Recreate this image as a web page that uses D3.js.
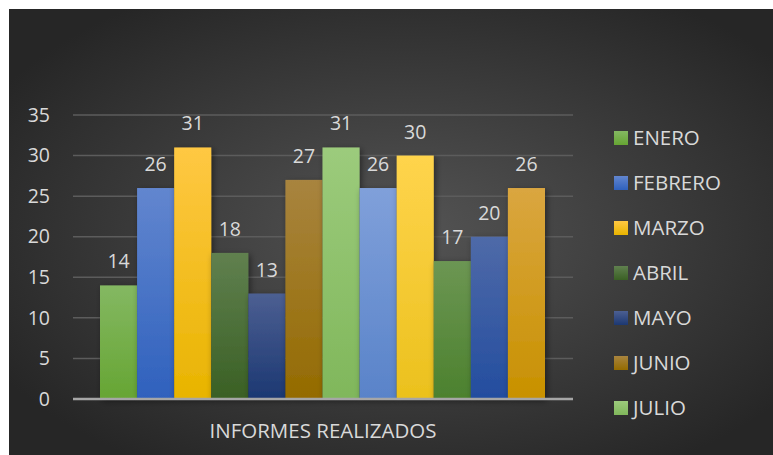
<!DOCTYPE html>
<html>
<head>
<meta charset="utf-8">
<script src="https://cdn.jsdelivr.net/npm/d3@7"></script>
<style>
  html, body { margin: 0; padding: 0; background: #fff; }
  svg text { font-family: "Open Sans", "Liberation Sans", sans-serif; }
</style>
</head>
<body>
<div id="chart"></div>
<script>
// datos
const months = ["ENERO", "FEBRERO", "MARZO", "ABRIL", "MAYO", "JUNIO",
  "JULIO", "AGOSTO", "SEPTIEMBRE", "OCTUBRE", "NOVIEMBRE", "DICIEMBRE"];
const values = [14, 26, 31, 18, 13, 27, 31, 26, 30, 17, 20, 26];
const yTicks = [0, 5, 10, 15, 20, 25, 30, 35];
const category = "INFORMES REALIZADOS";
// color arriba / abajo de cada barra
const topColors = ["#84b862", "#6286cf", "#ffc843", "#60804f", "#4c5f92", "#a8843f",
  "#9ccb7c", "#80a0da", "#ffd44c", "#6c9653", "#4f6aa8", "#daa640"];
const bottomColors = ["#66a533", "#2f61bd", "#e8b400", "#3a6024", "#1c3872", "#946b00",
  "#80b75b", "#5983c9", "#ebc11d", "#4c812e", "#234d9f", "#c89100"];

const W = 773, H = 455;
const margin = {top: 115, right: 200, bottom: 56, left: 73};
const width = 573 - margin.left;
const height = 399 - margin.top;

const svg = d3.select("#chart").append("svg")
  .attr("width", W)
  .attr("height", H);

const defs = svg.append("defs");

// fondo
const bg = defs.append("radialGradient")
  .attr("id", "bg")
  .attr("cx", "52%").attr("cy", "50%").attr("r", "62%");
bg.append("stop").attr("offset", "0%").attr("stop-color", "#545454");
bg.append("stop").attr("offset", "100%").attr("stop-color", "#262626");

svg.append("rect")
  .attr("x", 9).attr("y", 9)
  .attr("width", W - 9).attr("height", H - 9)
  .attr("fill", "url(#bg)");

months.forEach((m, i) => {
  const g = defs.append("linearGradient")
    .attr("id", "grad" + i)
    .attr("x1", 0).attr("y1", 0).attr("x2", 0).attr("y2", 1);
  g.append("stop").attr("offset", "0%").attr("stop-color", topColors[i]);
  g.append("stop").attr("offset", "100%").attr("stop-color", bottomColors[i]);
});

const shadow = defs.append("filter").attr("id", "shadow")
  .attr("x", "-30%").attr("y", "-20%").attr("width", "160%").attr("height", "140%");
shadow.append("feDropShadow")
  .attr("dx", 2).attr("dy", 2).attr("stdDeviation", 3)
  .attr("flood-color", "#000").attr("flood-opacity", 0.45);

const g = svg.append("g")
  .attr("transform", `translate(${margin.left},${margin.top})`);

const y = d3.scaleLinear().domain([0, 35]).range([height, 0]);

// barras: ocupan 27..472 dentro del área
const x = d3.scaleBand()
  .domain(months)
  .range([27, width - 28])
  .padding(0);

// rejilla
g.append("g")
  .selectAll("line")
  .data(yTicks.filter(d => d > 0))
  .join("line")
  .attr("x1", 0).attr("x2", width)
  .attr("y1", d => y(d)).attr("y2", d => y(d))
  .attr("stroke", "#5c5c5c")
  .attr("stroke-width", 1.5);

// eje Y
const yAxis = g.append("g")
  .call(d3.axisLeft(y).tickValues(yTicks).tickSize(0).tickPadding(23));
yAxis.select(".domain").remove();
yAxis.selectAll("text")
  .attr("fill", "#d9d9d9")
  .style("font-size", "19.5px");

// barras
g.append("g")
  .selectAll("rect")
  .data(values)
  .join("rect")
  .attr("x", (d, i) => x(months[i]))
  .attr("y", d => y(d))
  .attr("width", x.bandwidth())
  .attr("height", d => height - y(d))
  .attr("fill", (d, i) => `url(#grad${i})`)
  .attr("filter", "url(#shadow)");

// etiquetas
g.append("g")
  .selectAll("text")
  .data(values)
  .join("text")
  .attr("x", (d, i) => x(months[i]) + x.bandwidth() / 2)
  .attr("y", d => y(d) - 17)
  .attr("text-anchor", "middle")
  .attr("fill", "#d9d9d9")
  .style("font-size", "19.5px")
  .text(d => d);

// eje X
g.append("line")
  .attr("x1", 0).attr("x2", width)
  .attr("y1", height).attr("y2", height)
  .attr("stroke", "#a6a6a6")
  .attr("stroke-width", 2.5);

g.append("text")
  .attr("x", width / 2)
  .attr("y", height + 39)
  .attr("text-anchor", "middle")
  .attr("fill", "#d9d9d9")
  .style("font-size", "20.5px")
  .text(category);

// leyenda (solo caben 7 entradas)
const legendStep = 45;
const legendItems = months.map((m, i) => ({m, i}))
  .filter(d => 138 + d.i * legendStep < H - 30);
const legend = svg.append("g")
  .attr("transform", "translate(614,138)");
const li = legend.selectAll("g")
  .data(legendItems)
  .join("g")
  .attr("transform", d => `translate(0,${d.i * legendStep})`);
li.append("rect")
  .attr("x", 0).attr("y", -7)
  .attr("width", 14).attr("height", 14)
  .attr("fill", d => `url(#grad${d.i})`);
li.append("text")
  .attr("x", 19)
  .attr("y", 7)
  .attr("fill", "#d9d9d9")
  .style("font-size", "20.5px")
  .text(d => d.m);
</script>
</body>
</html>
